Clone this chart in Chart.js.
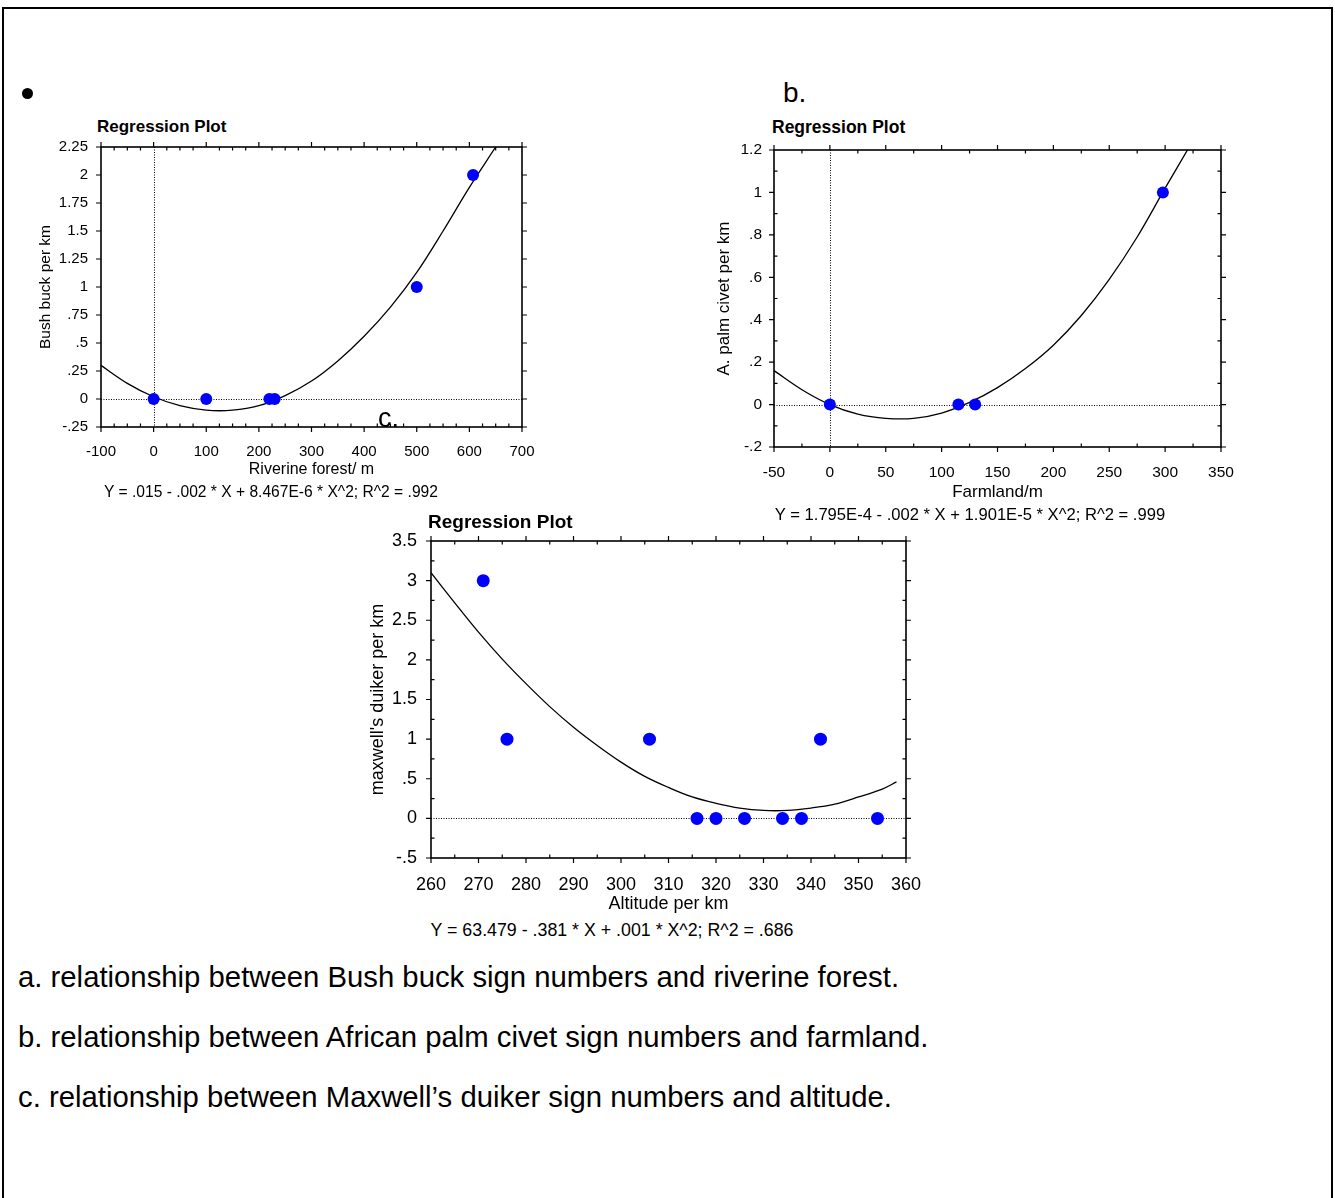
<!DOCTYPE html>
<html>
<head>
<meta charset="utf-8">
<script src="https://cdn.jsdelivr.net/npm/chart.js@4.4.1/dist/chart.umd.min.js"></script>
<style>
  body { margin: 0; background: #fff; font-family: "Liberation Sans", Arial, sans-serif; }
  #page { position: relative; width: 1335px; height: 1198px; overflow: hidden; background: #fff; }
  .frame { position: absolute; left: 2px; top: 7px; width: 1327px; height: 1300px; border: 2px solid #000; border-bottom: none; }
  .t { position: absolute; white-space: nowrap; line-height: 1; color: #000; }
  .bold { font-weight: bold; }
  canvas { position: absolute; }
  .dot { position: absolute; left: 22px; top: 88px; width: 11px; height: 11px; border-radius: 50%; background: #000; }
</style>
</head>
<body>
<div id="page">
  <div class="frame"></div>
  <div class="dot"></div>

  <canvas id="chartA" width="540" height="350" style="left:0px;top:136px"></canvas>
  <canvas id="chartB" width="550" height="370" style="left:690px;top:140px"></canvas>
  <canvas id="chartC" width="590" height="390" style="left:340px;top:530px"></canvas>

  <div class="t" style="left:783px;top:93px;font-size:28px;transform:translateY(-50%)">b.</div>
  <div class="t" style="left:378px;top:418px;font-size:27px;transform:translateY(-50%)">c.</div>

  <div class="t bold" style="left:97px;top:126px;font-size:17px;transform:translateY(-50%)">Regression Plot</div>
  <div class="t bold" style="left:772px;top:128px;font-size:17.5px;transform:translateY(-50%)">Regression Plot</div>
  <div class="t bold" style="left:428px;top:521px;font-size:19px;transform:translateY(-50%)">Regression Plot</div>

  <div class="t" style="left:271px;top:492px;font-size:15.6px;transform:translate(-50%,-50%)">Y = .015 - .002 * X + 8.467E-6 * X^2; R^2 = .992</div>
  <div class="t" style="left:970px;top:515px;font-size:16.6px;transform:translate(-50%,-50%)">Y = 1.795E-4 - .002 * X + 1.901E-5 * X^2; R^2 = .999</div>
  <div class="t" style="left:612px;top:931px;font-size:17.8px;transform:translate(-50%,-50%)">Y = 63.479 - .381 * X + .001 * X^2; R^2 = .686</div>

  <div class="t" style="left:18px;top:977px;font-size:29.3px;transform:translateY(-50%)">a. relationship between Bush buck sign numbers and riverine forest.</div>
  <div class="t" style="left:18px;top:1037px;font-size:29.3px;transform:translateY(-50%)">b. relationship between African palm civet sign numbers and farmland.</div>
  <div class="t" style="left:18px;top:1097px;font-size:29.3px;transform:translateY(-50%)">c. relationship between Maxwell’s duiker sign numbers and altitude.</div>
</div>

<script>
// (a) Bush buck vs riverine forest
const bushX = [0, 100, 220, 230, 500, 607];
const bushY = [0, 0, 0, 0, 1, 2];
const bushCurveX = [-100, -50, 0, 50, 100, 150, 200, 250, 300, 350, 400, 450, 500, 550, 600, 650];
const bushCurveY = [0.30, 0.14, 0.02, -0.06, -0.10, -0.10, -0.06, 0.03, 0.16, 0.34, 0.56, 0.82, 1.13, 1.50, 1.89, 2.25];
const bushXTicks = [-100, 0, 100, 200, 300, 400, 500, 600, 700];
const bushYTicks = [-0.25, 0, 0.25, 0.5, 0.75, 1, 1.25, 1.5, 1.75, 2, 2.25];

// (b) African palm civet vs farmland
const civetX = [0, 115, 130, 298];
const civetY = [0, 0, 0, 1];
const civetCurveX = [-50, -25, 0, 25, 50, 75, 100, 125, 150, 175, 200, 225, 250, 275, 300, 320];
const civetCurveY = [0.16, 0.07, 0.0, -0.045, -0.065, -0.065, -0.04, 0.01, 0.08, 0.17, 0.28, 0.42, 0.59, 0.79, 1.02, 1.2];
const civetXTicks = [-50, 0, 50, 100, 150, 200, 250, 300, 350];
const civetYTicks = [-0.2, 0, 0.2, 0.4, 0.6, 0.8, 1, 1.2];

// (c) Maxwell's duiker vs altitude
const duikerX = [271, 276, 306, 316, 320, 326, 334, 338, 342, 354];
const duikerY = [3, 1, 1, 0, 0, 0, 0, 0, 1, 0];
const duikerCurveX = [260, 265, 270, 275, 280, 285, 290, 295, 300, 305, 310, 315, 320, 325, 330, 335, 340, 345, 350, 355, 358];
const duikerCurveY = [3.10, 2.72, 2.35, 2.01, 1.70, 1.41, 1.15, 0.92, 0.71, 0.53, 0.39, 0.27, 0.19, 0.13, 0.10, 0.10, 0.13, 0.18, 0.27, 0.37, 0.46];
const duikerXTicks = [260, 270, 280, 290, 300, 310, 320, 330, 340, 350, 360];
const duikerYTicks = [-0.5, 0, 0.5, 1, 1.5, 2, 2.5, 3, 3.5];

const FONT = '"Liberation Sans", Arial, sans-serif';

// 1.25 -> "1.25", 0.25 -> ".25", -0.25 -> "-.25"
function fmt(v) {
  return String(+(+v).toFixed(3)).replace(/^(-?)0\./, '$1.');
}

function pairs(xs, ys) {
  return xs.map((x, i) => ({ x: x, y: ys[i] }));
}

// frame, outside major ticks, inside minor ticks, dotted zero lines
function framePlugin(o) {
  return {
    id: 'frame',
    beforeDatasetsDraw(chart) {
      const { ctx, chartArea: a, scales: { x, y } } = chart;
      ctx.save();
      ctx.strokeStyle = '#000';
      ctx.lineWidth = 1;
      ctx.setLineDash([1, 1.5]);
      const y0 = Math.round(y.getPixelForValue(0)) + 0.5;
      ctx.beginPath(); ctx.moveTo(a.left, y0); ctx.lineTo(a.right, y0); ctx.stroke();
      if (o.zeroX) {
        const x0 = Math.round(x.getPixelForValue(0)) + 0.5;
        ctx.beginPath(); ctx.moveTo(x0, a.top); ctx.lineTo(x0, a.bottom); ctx.stroke();
      }
      ctx.restore();
    },
    afterDraw(chart) {
      const { ctx, chartArea: a, scales: { x, y } } = chart;
      ctx.save();
      ctx.strokeStyle = '#000';
      ctx.lineWidth = 1.6;
      ctx.strokeRect(a.left, a.top, a.right - a.left, a.bottom - a.top);
      ctx.lineWidth = 1.2;
      ctx.beginPath();
      const maj = 5, min = 3.5;
      o.xTicks.forEach(v => {
        const px = x.getPixelForValue(v);
        ctx.moveTo(px, a.top); ctx.lineTo(px, a.top - maj);
        ctx.moveTo(px, a.bottom); ctx.lineTo(px, a.bottom + maj);
      });
      o.yTicks.forEach(v => {
        const py = y.getPixelForValue(v);
        ctx.moveTo(a.left, py); ctx.lineTo(a.left - maj, py);
        ctx.moveTo(a.right, py); ctx.lineTo(a.right + maj, py);
      });
      for (let i = 0; i < o.xTicks.length - 1; i++) {
        const step = (o.xTicks[i + 1] - o.xTicks[i]) / o.xMinor;
        for (let k = 1; k < o.xMinor; k++) {
          const px = x.getPixelForValue(o.xTicks[i] + k * step);
          ctx.moveTo(px, a.top); ctx.lineTo(px, a.top + min);
          ctx.moveTo(px, a.bottom); ctx.lineTo(px, a.bottom - min);
        }
      }
      for (let i = 0; i < o.yTicks.length - 1; i++) {
        const step = (o.yTicks[i + 1] - o.yTicks[i]) / o.yMinor;
        for (let k = 1; k < o.yMinor; k++) {
          const py = y.getPixelForValue(o.yTicks[i] + k * step);
          ctx.moveTo(a.left, py); ctx.lineTo(a.left + min, py);
          ctx.moveTo(a.right, py); ctx.lineTo(a.right - min, py);
        }
      }
      ctx.stroke();
      ctx.restore();
    }
  };
}

function regressionChart(id, o) {
  const tickFont = { family: FONT, size: o.tickSize };
  const titleFont = { family: FONT, size: o.titleSize };
  return new Chart(document.getElementById(id), {
    type: 'scatter',
    data: {
      datasets: [
        {
          data: pairs(o.px, o.py),
          backgroundColor: '#0000ff',
          borderWidth: 0,
          pointRadius: o.r,
          pointHoverRadius: o.r,
          order: 0
        },
        {
          type: 'line',
          data: pairs(o.cx, o.cy),
          borderColor: '#000',
          borderWidth: 1.3,
          pointRadius: 0,
          tension: 0.35,
          fill: false,
          order: 1
        }
      ]
    },
    options: {
      responsive: false,
      animation: false,
      events: [],
      layout: { padding: o.pad },
      plugins: { legend: { display: false }, tooltip: { enabled: false } },
      scales: {
        x: {
          type: 'linear',
          min: o.xTicks[0], max: o.xTicks[o.xTicks.length - 1],
          afterBuildTicks: s => { s.ticks = o.xTicks.map(v => ({ value: v })); },
          afterFit: s => { s.height = o.xH; s.paddingLeft = 0; s.paddingRight = 0; },
          grid: { display: false, drawTicks: false },
          border: { display: false },
          ticks: { color: '#000', font: tickFont, padding: o.xTickPad, maxRotation: 0, autoSkip: false, callback: v => fmt(v) },
          title: { display: true, text: o.xTitle, color: '#000', font: { family: FONT, size: o.xTitleSize }, padding: { top: 0, bottom: o.xTitlePad } }
        },
        y: {
          type: 'linear',
          min: o.yTicks[0], max: o.yTicks[o.yTicks.length - 1],
          afterBuildTicks: s => { s.ticks = o.yTicks.map(v => ({ value: v })); },
          afterFit: s => { s.width = o.yW; s.paddingTop = 0; s.paddingBottom = 0; },
          grid: { display: false, drawTicks: false },
          border: { display: false },
          ticks: { color: '#000', font: tickFont, padding: o.yTickPad, autoSkip: false, callback: v => fmt(v) },
          title: { display: true, text: o.yTitle, color: '#000', font: titleFont, padding: { top: o.yTitlePad, bottom: 0 } }
        }
      }
    },
    plugins: [framePlugin(o)]
  });
}

regressionChart('chartA', {
  px: bushX, py: bushY, cx: bushCurveX, cy: bushCurveY,
  xTicks: bushXTicks, yTicks: bushYTicks, xMinor: 4, yMinor: 1, zeroX: true,
  xTitle: 'Riverine forest/ m', yTitle: 'Bush buck per km',
  tickSize: 15, titleSize: 15.5, xTitleSize: 16, r: 6,
  pad: { top: 11, right: 18, left: 0, bottom: 0 },
  yW: 101, xH: 59, xTickPad: 16, yTickPad: 13, yTitlePad: 36, xTitlePad: 7
});

regressionChart('chartB', {
  px: civetX, py: civetY, cx: civetCurveX, cy: civetCurveY,
  xTicks: civetXTicks, yTicks: civetYTicks, xMinor: 2, yMinor: 2, zeroX: true,
  xTitle: 'Farmland/m', yTitle: 'A. palm civet per km',
  tickSize: 15.5, titleSize: 17, xTitleSize: 17, r: 6,
  pad: { top: 10, right: 19, left: 0, bottom: 0 },
  yW: 84, xH: 63, xTickPad: 16, yTickPad: 12, yTitlePad: 24, xTitlePad: 7
});

regressionChart('chartC', {
  px: duikerX, py: duikerY, cx: duikerCurveX, cy: duikerCurveY,
  xTicks: duikerXTicks, yTicks: duikerYTicks, xMinor: 2, yMinor: 2, zeroX: false,
  xTitle: 'Altitude per km', yTitle: "maxwell's duiker per km",
  tickSize: 18, titleSize: 18, xTitleSize: 18, r: 6.5,
  pad: { top: 11, right: 24, left: 0, bottom: 0 },
  yW: 91, xH: 62, xTickPad: 16, yTickPad: 14, yTitlePad: 27, xTitlePad: 5
});
</script>
</body>
</html>
